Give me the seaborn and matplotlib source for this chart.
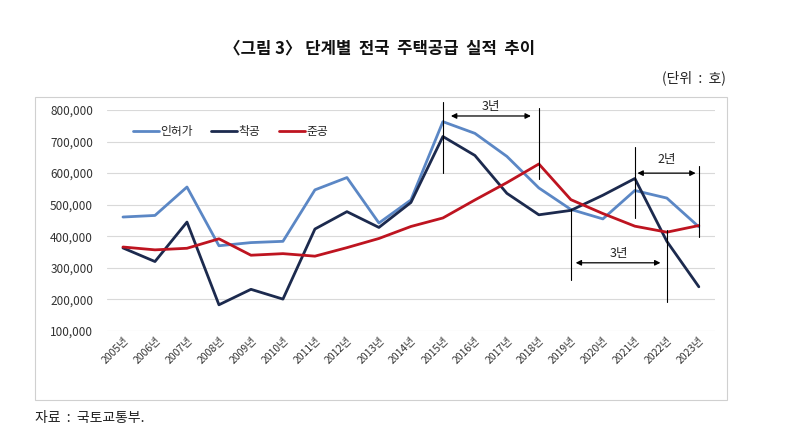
import pandas as pd
import matplotlib.pyplot as plt
import seaborn as sns
from matplotlib.patches import Rectangle
from matplotlib.ticker import FuncFormatter

# 데이터 (단위: 호)
years = list(range(2005, 2024))
year_labels = [f"{y}년" for y in years]
permit = [461000, 466000, 556000, 370000, 380000, 384000, 547000, 586000, 442000, 515000,
          763000, 726000, 653000, 553000, 485000, 455000, 545000, 521000, 430000]
start = [363000, 320000, 445000, 183000, 232000, 201000, 423000, 478000, 428000, 507000,
         716000, 656000, 536000, 468000, 482000, 530000, 583000, 384000, 240000]
complete = [366000, 357000, 362000, 392000, 340000, 345000, 337000, 364000, 393000, 431000,
            458000, 515000, 570000, 629000, 516000, 472000, 432000, 413000, 434000]
series_names = ["인허가", "착공", "준공"]

df = pd.DataFrame({"연도": year_labels, "인허가": permit, "착공": start, "준공": complete})
long = df.melt(id_vars="연도", var_name="구분", value_name="호")

sns.set_style("white")
plt.rcParams["font.family"] = ["Noto Sans CJK KR", "DejaVu Sans"]

fig = plt.figure(figsize=(7.89, 4.32), dpi=100)
ax = fig.add_axes([0.1356, 0.2338, 0.7704, 0.5116])

palette = {"인허가": "#5B87C5", "착공": "#1C2A4E", "준공": "#BE1420"}
sns.lineplot(data=long, x="연도", y="호", hue="구분", hue_order=series_names,
             palette=palette, linewidth=2.0, sort=False, ax=ax)

ax.set_xlim(-0.5, len(years) - 0.5)
ax.set_ylim(100000, 800000)
ax.set_yticks(range(100000, 800001, 100000))
ax.yaxis.set_major_formatter(FuncFormatter(lambda v, p: f"{int(v):,}"))
ax.grid(axis="y", color="#D9D9D9", linewidth=0.8)
ax.grid(axis="x", visible=False)
ax.set_axisbelow(True)
for s in ax.spines.values():
    s.set_visible(False)
ax.set_xlabel("")
ax.set_ylabel("")
ax.tick_params(axis="y", labelsize=8.5, length=0, pad=10, labelcolor="#333333")
ax.tick_params(axis="x", labelsize=7.5, length=0, pad=3, labelcolor="#333333")
plt.setp(ax.get_xticklabels(), rotation=45, ha="right", rotation_mode="anchor")

leg = ax.legend(loc="upper left", bbox_to_anchor=(0.025, 0.98), ncol=3, frameon=False,
                fontsize=8.5, handlelength=2.2, handletextpad=0.1, columnspacing=1.6)
for line in leg.get_lines():
    line.set_linewidth(2.0)

# 기간 표시 (세로선, 화살표, 텍스트)
vlines = [(10, 600000, 825000), (13, 582000, 806000), (14, 262000, 487000),
          (17, 192000, 420000), (16, 458000, 683000), (18, 398000, 623000)]
for x, y0, y1 in vlines:
    ax.plot([x, x], [y0, y1], color="black", linewidth=0.8, clip_on=False, zorder=5)

arrows = [((10.25, 781000), (12.75, 781000), "3년", (11.5, 810000)),
          ((14.15, 316000), (16.8, 316000), "3년", (15.5, 347000)),
          ((16.08, 600000), (17.9, 600000), "2년", (17.0, 644000))]
for (xa, ya), (xb, yb), label, (xt, yt) in arrows:
    ax.annotate("", xy=(xb, yb), xytext=(xa, ya), annotation_clip=False,
                arrowprops=dict(arrowstyle="<|-|>", color="black", lw=0.9,
                                mutation_scale=8, shrinkA=0, shrinkB=0))
    ax.text(xt, yt, label, ha="center", va="center", fontsize=9, color="#222222")

# 차트 테두리
fig.patches.append(Rectangle((35 / 789, 1 - 400 / 432), (727 - 35) / 789, (400 - 97) / 432,
                             transform=fig.transFigure, fill=False,
                             edgecolor="#D0D0D0", linewidth=0.8))

fig.text(380 / 789, 1 - 48 / 432, "〈그림 3〉 단계별  전국  주택공급  실적  추이",
         ha="center", va="center", fontsize=12, fontweight="bold", color="#111111")
fig.text(726 / 789, 1 - 78 / 432, "(단위  :  호)", ha="right", va="center",
         fontsize=10, color="#222222")
fig.text(35 / 789, 1 - 418 / 432, "자료  :  국토교통부.", ha="left", va="center",
         fontsize=10, color="#222222")

fig.savefig("out.png", dpi=100, facecolor="white")
